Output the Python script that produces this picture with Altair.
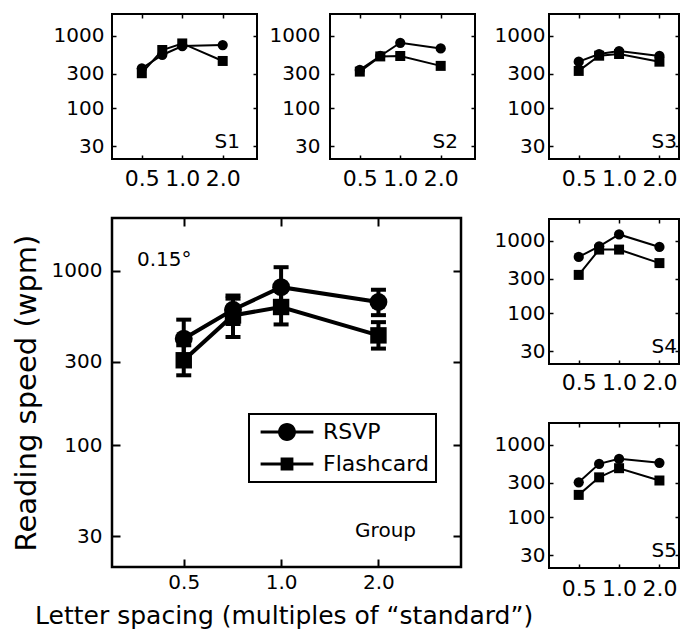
import altair as alt
import pandas as pd

# ---------------- data ----------------
spacing = [0.5, 0.71, 1.0, 2.0]
series = ["RSVP", "Flashcard"]

s1_rsvp = [356, 544, 722, 746]
s1_flash = [305, 637, 785, 450]
s2_rsvp = [339, 527, 802, 670]
s2_flash = [321, 520, 527, 385]
s3_rsvp = [440, 561, 617, 527]
s3_flash = [328, 532, 561, 440]
s4_rsvp = [599, 841, 1225, 824]
s4_flash = [339, 757, 757, 493]
s5_rsvp = [304, 546, 640, 564]
s5_flash = [204, 356, 476, 322]

grp_rsvp = [407, 596, 803, 660]
grp_rsvp_lo = [317, 494, 617, 555]
grp_rsvp_hi = [523, 719, 1045, 776]
grp_flash = [306, 553, 618, 425]
grp_flash_lo = [251, 416, 491, 357]
grp_flash_hi = [373, 690, 778, 506]

x_ticks = [0.5, 1.0, 2.0]
y_ticks = [30, 100, 300, 1000]
x_domain = [0.3, 3.6]
x_domain_right = [0.3, 2.8]   # right column is cut at the page edge
y_domain = [20, 2000]

FONT = "DejaVu Sans"
YTITLE_SIZE = 29
YS = alt.Scale(type="log", domain=y_domain, nice=False)

# legend glyphs: marker with a line through it (filled shapes only)
CIRCLE_PATH = ("M-3.3,-0.19H3.3V0.19H-3.3Z"
               "M-1.12,0A1.12,1.12,0,1,1,1.12,0A1.12,1.12,0,1,1,-1.12,0Z")
SQUARE_PATH = ("M-3.3,-0.19H3.3V0.19H-3.3Z"
               "M-0.8,-0.8H0.8V0.8H-0.8Z")


def make_df(rsvp, flash):
    return pd.DataFrame({
        "x": spacing + spacing,
        "y": rsvp + flash,
        "series": ["RSVP"] * len(spacing) + ["Flashcard"] * len(spacing),
    })


def small_panel(rsvp, flash, label, ylabpad, xlabpad, width=145, xdom=x_domain,
                label_x=128, hidden_title_pad=None):
    XS = alt.Scale(type="log", domain=xdom, nice=False)
    df = make_df(rsvp, flash)
    base = alt.Chart(df)
    tick = 4
    xaxis = alt.Axis(values=x_ticks, format=".1f", orient="bottom", offset=-tick,
                     tickSize=tick, tickWidth=1.5, labelFontSize=22, domain=False,
                     labelPadding=xlabpad, labelFlush=False, labelOverlap=False,
                     title=None)
    if hidden_title_pad is not None:
        # blank title: reserves the same room as the group's y title, so the panels line up
        yaxis = alt.Axis(values=y_ticks, format="d", orient="left", offset=-tick,
                         tickSize=tick, tickWidth=1.5, labelFontSize=20, domain=False,
                         labelPadding=ylabpad, labelOverlap=False,
                         title=" ", titleOpacity=0, titleFontSize=YTITLE_SIZE,
                         titlePadding=hidden_title_pad)
    else:
        yaxis = alt.Axis(values=y_ticks, format="d", orient="left", offset=-tick,
                         tickSize=tick, tickWidth=1.5, labelFontSize=20, domain=False,
                         labelPadding=ylabpad, labelOverlap=False, title=None)
    lines = base.mark_line(color="black", strokeWidth=2).encode(
        x=alt.X("x:Q", scale=XS, axis=xaxis),
        y=alt.Y("y:Q", scale=YS, axis=yaxis),
        detail="series:N",
    )
    circles = base.transform_filter(alt.datum.series == "RSVP").mark_point(
        shape="circle", filled=True, size=105, color="black", opacity=1
    ).encode(x=alt.X("x:Q", scale=XS, axis=None), y=alt.Y("y:Q", scale=YS, axis=None))
    squares = base.transform_filter(alt.datum.series == "Flashcard").mark_point(
        shape="square", filled=True, size=100, color="black", opacity=1
    ).encode(x=alt.X("x:Q", scale=XS, axis=None), y=alt.Y("y:Q", scale=YS, axis=None))
    mirror = base.mark_point(opacity=0).encode(
        x=alt.X("x:Q", scale=XS, axis=alt.Axis(values=x_ticks, orient="top", labels=False,
                                              offset=-tick, tickSize=tick, tickWidth=1.5,
                                              domain=False, title=None)),
        y=alt.Y("y:Q", scale=YS, axis=alt.Axis(values=y_ticks, orient="right", labels=False,
                                              offset=-tick, tickSize=tick, tickWidth=1.5,
                                              domain=False, title=None)),
    )
    text = alt.Chart(pd.DataFrame({"t": [label]})).mark_text(
        align="right", baseline="alphabetic", fontSize=20, font=FONT, color="black"
    ).encode(x=alt.value(label_x), y=alt.value(134), text="t:N")
    return alt.layer(lines, circles, squares, mirror, text).resolve_axis(
        x="independent", y="independent"
    ).properties(width=width, height=145)


# ---------------- group panel ----------------
XS = alt.Scale(type="log", domain=x_domain, nice=False)
gdf = pd.DataFrame({
    "x": spacing + spacing,
    "y": grp_rsvp + grp_flash,
    "lo": grp_rsvp_lo + grp_flash_lo,
    "hi": grp_rsvp_hi + grp_flash_hi,
    "series": ["RSVP"] * len(spacing) + ["Flashcard"] * len(spacing),
})
gbase = alt.Chart(gdf)
GT = 8
gx_axis = alt.Axis(values=x_ticks, format=".1f", orient="bottom", offset=-GT, tickSize=GT,
                   tickWidth=2, labelFontSize=20, labelPadding=5, labelFlush=False, domain=False,
                   labelOverlap=False, title=None)
gy_axis = alt.Axis(values=y_ticks, format="d", orient="left", offset=-GT, tickSize=GT,
                   tickWidth=2, labelFontSize=20, labelPadding=10, labelOverlap=False, domain=False,
                   title="Reading speed (wpm)", titleFontSize=YTITLE_SIZE, titlePadding=10)
XN = alt.X("x:Q", scale=XS, axis=None)

legend = alt.Legend(
    title=None, orient="none", legendX=137, legendY=196,
    labelFont=FONT, labelFontSize=22, labelColor="black",
    symbolSize=256, symbolFillColor="black", symbolStrokeColor="black",
    symbolStrokeWidth=0, symbolOpacity=1,
    padding=7, rowPadding=10, symbolOffset=20, labelOffset=25,
    strokeColor="black",
)

err = gbase.mark_rule(color="black", strokeWidth=4).encode(
    x=XN, y=alt.Y("lo:Q", scale=YS, axis=None), y2="hi:Q")
cap_lo = gbase.mark_tick(orient="horizontal", size=15, thickness=4, color="black", opacity=1).encode(
    x=XN, y=alt.Y("lo:Q", scale=YS, axis=None))
cap_hi = gbase.mark_tick(orient="horizontal", size=15, thickness=4, color="black", opacity=1).encode(
    x=XN, y=alt.Y("hi:Q", scale=YS, axis=None))
glines = gbase.mark_line(color="black", strokeWidth=4).encode(
    x=alt.X("x:Q", scale=XS, axis=gx_axis),
    y=alt.Y("y:Q", scale=YS, axis=gy_axis),
    detail="series:N",
)
gcircles = gbase.transform_filter(alt.datum.series == "RSVP").mark_point(
    shape="circle", filled=True, size=320, color="black", opacity=1
).encode(x=XN, y=alt.Y("y:Q", scale=YS, axis=None))
gsquares = gbase.transform_filter(alt.datum.series == "Flashcard").mark_point(
    shape="square", filled=True, size=270, color="black", opacity=1
).encode(x=XN, y=alt.Y("y:Q", scale=YS, axis=None))
# legend carrier: no marks drawn, only its shape scale feeds the legend
gleg = gbase.transform_filter("false").mark_point(filled=True, color="black", opacity=1).encode(
    x=XN, y=alt.Y("y:Q", scale=YS, axis=None),
    shape=alt.Shape("series:N", scale=alt.Scale(domain=series, range=[CIRCLE_PATH, SQUARE_PATH]),
                    legend=legend),
)
gmirror = gbase.mark_point(opacity=0).encode(
    x=alt.X("x:Q", scale=XS, axis=alt.Axis(values=x_ticks, orient="top", labels=False, domain=False,
                                          offset=-GT, tickSize=GT, tickWidth=2, title=None)),
    y=alt.Y("y:Q", scale=YS, axis=alt.Axis(values=y_ticks, orient="right", labels=False, domain=False,
                                          offset=-GT, tickSize=GT, tickWidth=2, title=None)),
)
t015 = alt.Chart(pd.DataFrame({"t": ["0.15\u00b0"]})).mark_text(
    align="left", baseline="alphabetic", fontSize=20, font=FONT, color="black"
).encode(x=alt.value(25), y=alt.value(48), text="t:N")
tgroup = alt.Chart(pd.DataFrame({"t": ["Group"]})).mark_text(
    align="right", baseline="alphabetic", fontSize=20, font=FONT, color="black"
).encode(x=alt.value(304), y=alt.value(319), text="t:N")

group = alt.layer(err, cap_lo, cap_hi, glines, gcircles, gsquares, gleg, gmirror, t015, tgroup).resolve_axis(
    x="independent", y="independent"
).properties(width=349, height=349, view=alt.ViewBackground(stroke="black", strokeWidth=2.5))

s1 = small_panel(s1_rsvp, s1_flash, "S1", 8, 9, hidden_title_pad=15)
s2 = small_panel(s2_rsvp, s2_flash, "S2", 10, 9)
s3 = small_panel(s3_rsvp, s3_flash, "S3", 4, 9, width=130, xdom=x_domain_right, label_x=128)
s4 = small_panel(s4_rsvp, s4_flash, "S4", 4, 8, width=130, xdom=x_domain_right, label_x=128)
s5 = small_panel(s5_rsvp, s5_flash, "S5", 4, 10, width=130, xdom=x_domain_right, label_x=128)

top_left = alt.hconcat(s1, s2, spacing=9)
left_col = alt.vconcat(top_left, group, spacing=25).resolve_scale(
    shape="independent").resolve_legend(shape="independent")
right_col = alt.vconcat(s3, s4, s5, spacing=27)

chart = alt.hconcat(left_col, right_col, spacing=16).resolve_scale(
    shape="independent").resolve_legend(shape="independent").properties(
    padding={"left": 0, "top": 4, "right": 0, "bottom": 0}, background="white",
    title=alt.TitleParams(
        "Letter spacing (multiples of \u201cstandard\u201d)", orient="bottom",
        anchor="start", frame="bounds", dx=27, offset=4, fontSize=25, font=FONT,
        fontWeight="normal", color="black"),
).configure_view(
    stroke="black", strokeWidth=2
).configure_axis(
    grid=False, domain=False, labelColor="black", tickColor="black",
    labelFont=FONT, titleFont=FONT, titleColor="black", titleFontWeight="normal",
).configure_legend(
    strokeWidth=2
)

chart.save("out.html", embed_options={"renderer": "svg", "actions": False})
